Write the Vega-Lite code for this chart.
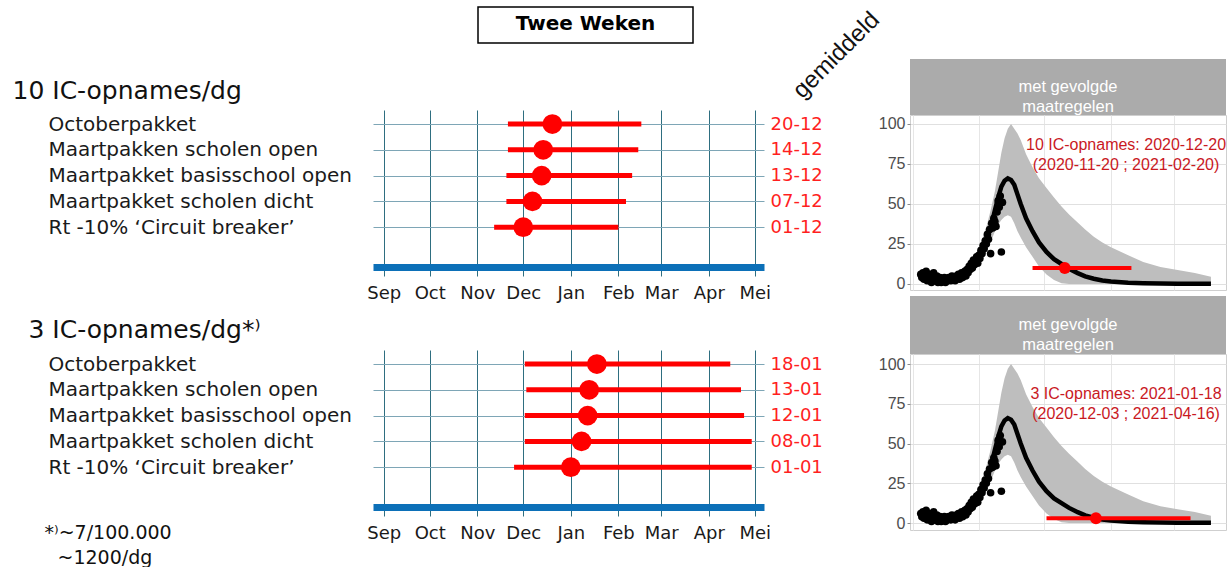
{
  "$schema": "https://vega.github.io/schema/vega-lite/v6.json",
  "background": "white",
  "padding": {"left": 12, "top": 6, "right": 0, "bottom": 0},
  "config": {"view": {"stroke": null}, "font": "DejaVu Sans"},
  "datasets": {
    "f10": [
      {"name": "Octoberpakket", "lab": "20-12", "mid": "2020-12-20", "lo": "2020-11-21", "hi": "2021-02-16"},
      {"name": "Maartpakken scholen open", "lab": "14-12", "mid": "2020-12-14", "lo": "2020-11-21", "hi": "2021-02-14"},
      {"name": "Maartpakket basisschool open", "lab": "13-12", "mid": "2020-12-13", "lo": "2020-11-20", "hi": "2021-02-10"},
      {"name": "Maartpakket scholen dicht", "lab": "07-12", "mid": "2020-12-07", "lo": "2020-11-20", "hi": "2021-02-06"},
      {"name": "Rt -10% ‘Circuit breaker’", "lab": "01-12", "mid": "2020-12-01", "lo": "2020-11-12", "hi": "2021-02-01"}
    ],
    "f3": [
      {"name": "Octoberpakket", "lab": "18-01", "mid": "2021-01-18", "lo": "2020-12-02", "hi": "2021-04-15"},
      {"name": "Maartpakken scholen open", "lab": "13-01", "mid": "2021-01-13", "lo": "2020-12-03", "hi": "2021-04-22"},
      {"name": "Maartpakket basisschool open", "lab": "12-01", "mid": "2021-01-12", "lo": "2020-12-02", "hi": "2021-04-24"},
      {"name": "Maartpakket scholen dicht", "lab": "08-01", "mid": "2021-01-08", "lo": "2020-12-02", "hi": "2021-04-29"},
      {"name": "Rt -10% ‘Circuit breaker’", "lab": "01-01", "mid": "2021-01-01", "lo": "2020-11-25", "hi": "2021-04-29"}
    ],
    "curve": [
      {"date": "2020-08-08", "fit": 6.5, "lo": 4.5, "hi": 8.5},
      {"date": "2020-08-16", "fit": 4.5, "lo": 3, "hi": 6.5},
      {"date": "2020-08-24", "fit": 3.7, "lo": 2.5, "hi": 5.5},
      {"date": "2020-09-01", "fit": 3.8, "lo": 2.5, "hi": 5.5},
      {"date": "2020-09-09", "fit": 4.6, "lo": 3, "hi": 6.5},
      {"date": "2020-09-17", "fit": 7, "lo": 5, "hi": 9.5},
      {"date": "2020-09-24", "fit": 10.8, "lo": 8, "hi": 14},
      {"date": "2020-10-01", "fit": 17, "lo": 13, "hi": 22},
      {"date": "2020-10-07", "fit": 25.6, "lo": 19, "hi": 33},
      {"date": "2020-10-12", "fit": 35, "lo": 26, "hi": 46},
      {"date": "2020-10-16", "fit": 46, "lo": 33, "hi": 58},
      {"date": "2020-10-19", "fit": 54, "lo": 37, "hi": 70},
      {"date": "2020-10-22", "fit": 60.8, "lo": 40, "hi": 82},
      {"date": "2020-10-25", "fit": 64.5, "lo": 42, "hi": 91},
      {"date": "2020-10-28", "fit": 66, "lo": 43, "hi": 97},
      {"date": "2020-10-31", "fit": 65, "lo": 42, "hi": 100},
      {"date": "2020-11-03", "fit": 62, "lo": 38, "hi": 97},
      {"date": "2020-11-06", "fit": 56, "lo": 33, "hi": 94},
      {"date": "2020-11-09", "fit": 50, "lo": 29, "hi": 90},
      {"date": "2020-11-14", "fit": 41, "lo": 23, "hi": 81},
      {"date": "2020-11-20", "fit": 33, "lo": 17, "hi": 73},
      {"date": "2020-11-26", "fit": 26, "lo": 11, "hi": 66},
      {"date": "2020-12-03", "fit": 20, "lo": 6, "hi": 60},
      {"date": "2020-12-10", "fit": 15.5, "lo": 2.5, "hi": 54},
      {"date": "2020-12-17", "fit": 12.5, "lo": 0.5, "hi": 48.5},
      {"date": "2020-12-24", "fit": 9.5, "lo": 0, "hi": 43.5},
      {"date": "2021-01-01", "fit": 6.8, "lo": 0, "hi": 38.5},
      {"date": "2021-01-08", "fit": 4.8, "lo": 0, "hi": 34},
      {"date": "2021-01-16", "fit": 3.3, "lo": 0, "hi": 29.5},
      {"date": "2021-01-24", "fit": 2.2, "lo": 0, "hi": 26},
      {"date": "2021-02-01", "fit": 1.5, "lo": 0, "hi": 23},
      {"date": "2021-02-17", "fit": 0.8, "lo": 0, "hi": 18},
      {"date": "2021-03-03", "fit": 0.5, "lo": 0, "hi": 13.7},
      {"date": "2021-03-19", "fit": 0.3, "lo": 0, "hi": 10.6},
      {"date": "2021-04-04", "fit": 0.2, "lo": 0, "hi": 8.7},
      {"date": "2021-04-20", "fit": 0.2, "lo": 0, "hi": 6.9},
      {"date": "2021-05-05", "fit": 0.2, "lo": 0, "hi": 4.6}
    ],
    "obs": [
      {"date": "2020-08-08", "n": 6}, {"date": "2020-08-09", "n": 4}, {"date": "2020-08-10", "n": 7}, {"date": "2020-08-11", "n": 3},
      {"date": "2020-08-12", "n": 5}, {"date": "2020-08-13", "n": 8}, {"date": "2020-08-14", "n": 2}, {"date": "2020-08-15", "n": 5},
      {"date": "2020-08-16", "n": 6}, {"date": "2020-08-17", "n": 3}, {"date": "2020-08-18", "n": 1}, {"date": "2020-08-19", "n": 4},
      {"date": "2020-08-20", "n": 7}, {"date": "2020-08-21", "n": 2}, {"date": "2020-08-22", "n": 3}, {"date": "2020-08-23", "n": 5},
      {"date": "2020-08-24", "n": 1}, {"date": "2020-08-25", "n": 2}, {"date": "2020-08-26", "n": 4}, {"date": "2020-08-27", "n": 1},
      {"date": "2020-08-28", "n": 3}, {"date": "2020-08-29", "n": 2}, {"date": "2020-08-30", "n": 4}, {"date": "2020-08-31", "n": 1},
      {"date": "2020-09-01", "n": 3}, {"date": "2020-09-02", "n": 2}, {"date": "2020-09-03", "n": 4}, {"date": "2020-09-04", "n": 3},
      {"date": "2020-09-05", "n": 2}, {"date": "2020-09-06", "n": 5}, {"date": "2020-09-07", "n": 3}, {"date": "2020-09-08", "n": 4},
      {"date": "2020-09-09", "n": 2}, {"date": "2020-09-10", "n": 5}, {"date": "2020-09-11", "n": 4}, {"date": "2020-09-12", "n": 6},
      {"date": "2020-09-13", "n": 3}, {"date": "2020-09-14", "n": 5}, {"date": "2020-09-15", "n": 7}, {"date": "2020-09-16", "n": 4},
      {"date": "2020-09-17", "n": 6}, {"date": "2020-09-18", "n": 8}, {"date": "2020-09-19", "n": 5}, {"date": "2020-09-20", "n": 9},
      {"date": "2020-09-21", "n": 7}, {"date": "2020-09-22", "n": 11}, {"date": "2020-09-23", "n": 9}, {"date": "2020-09-24", "n": 13},
      {"date": "2020-09-25", "n": 10}, {"date": "2020-09-26", "n": 15}, {"date": "2020-09-27", "n": 12}, {"date": "2020-09-28", "n": 14},
      {"date": "2020-09-29", "n": 17}, {"date": "2020-09-30", "n": 13}, {"date": "2020-10-01", "n": 18}, {"date": "2020-10-02", "n": 16},
      {"date": "2020-10-03", "n": 21}, {"date": "2020-10-04", "n": 19}, {"date": "2020-10-05", "n": 24}, {"date": "2020-10-06", "n": 22},
      {"date": "2020-10-07", "n": 27}, {"date": "2020-10-08", "n": 25}, {"date": "2020-10-09", "n": 31}, {"date": "2020-10-10", "n": 28},
      {"date": "2020-10-11", "n": 34}, {"date": "2020-10-12", "n": 19}, {"date": "2020-10-13", "n": 38}, {"date": "2020-10-14", "n": 35},
      {"date": "2020-10-15", "n": 41}, {"date": "2020-10-16", "n": 39}, {"date": "2020-10-17", "n": 36}, {"date": "2020-10-18", "n": 45},
      {"date": "2020-10-19", "n": 52}, {"date": "2020-10-20", "n": 48}, {"date": "2020-10-21", "n": 55}, {"date": "2020-10-22", "n": 20},
      {"date": "2020-10-23", "n": 51}
    ],
    "red10": [
      {"lo": "2020-11-20", "mid": "2020-12-20", "hi": "2021-02-20", "v": 10, "label": "10 IC-opnames: 2020-12-20\n(2020-11-20 ; 2021-02-20)"}
    ],
    "red3": [
      {"lo": "2020-12-03", "mid": "2021-01-18", "hi": "2021-04-16", "v": 3, "label": "3 IC-opnames: 2021-01-18\n(2020-12-03 ; 2021-04-16)"}
    ],
    "strip": [{"facet": "met gevolgde\nmaatregelen"}],
    "kop": [{"t": "Twee Weken"}],
    "leeg": []
  },
  "bounds": "flush",
  "spacing": 537,
  "hconcat": [
    {
      "bounds": "flush",
      "spacing": 0,
      "vconcat": [
        {
          "bounds": "flush",
          "spacing": 0,
          "hconcat": [
            {"width": 105, "height": 36, "data": {"name": "leeg"}, "mark": "point"},
            {
              "width": 215, "height": 36,
              "view": {"stroke": "#000000", "strokeWidth": 1.5, "fill": "white"},
              "data": {"name": "kop"},
              "mark": {"type": "text", "font": "DejaVu Sans", "fontSize": 20, "fontWeight": "bold", "color": "#000000", "baseline": "middle", "align": "center", "dy": -1},
              "encoding": {"text": {"field": "t"}}
            }
          ]
        },
        {"width": 391, "height": 103, "data": {"name": "leeg"}, "mark": "point"},
        {
          "width": 391, "height": 157,
          "data": {"name": "f10"},
          "layer": [
            {
              "layer": [
                {
                  "mark": {"type": "rule", "color": "#ff0000", "strokeWidth": 5},
                  "encoding": {
                    "x": {"field": "lo", "type": "temporal",
                      "scale": {"type": "utc", "domain": [{"year": 2020, "month": 8, "date": 25, "utc": true}, {"year": 2021, "month": 5, "date": 7, "utc": true}]},
                      "axis": {
                        "title": null,
                        "values": [{"year": 2020, "month": 9, "date": 1, "utc": true}, {"year": 2020, "month": 10, "date": 1, "utc": true}, {"year": 2020, "month": 11, "date": 1, "utc": true}, {"year": 2020, "month": 12, "date": 1, "utc": true}, {"year": 2021, "month": 1, "date": 1, "utc": true}, {"year": 2021, "month": 2, "date": 1, "utc": true}, {"year": 2021, "month": 3, "date": 1, "utc": true}, {"year": 2021, "month": 4, "date": 1, "utc": true}, {"year": 2021, "month": 5, "date": 1, "utc": true}],
                        "labelExpr": "['Jan','Feb','Mar','Apr','Mei','Jun','Jul','Aug','Sep','Oct','Nov','Dec'][utcmonth(datum.value)]",
                        "grid": true, "gridColor": "#2e6e80", "gridWidth": 1,
                        "domain": true, "domainColor": "#0c70b8", "domainWidth": 7, "domainCap": "butt",
                        "ticks": true, "tickColor": "#2e6e80", "tickSize": 9, "tickWidth": 1,
                        "labelFont": "DejaVu Sans", "labelFontSize": 18, "labelColor": "#1a1a1a", "labelPadding": 8,
                        "labelOverlap": false, "labelFlush": false, "labelBound": false
                      }
                    },
                    "x2": {"field": "hi"},
                    "y": {"field": "name", "type": "nominal", "sort": null,
                      "scale": {"type": "point", "padding": 0.545, "domain": ["Octoberpakket", "Maartpakken scholen open", "Maartpakket basisschool open", "Maartpakket scholen dicht", "Rt -10% ‘Circuit breaker’", " "]},
                      "axis": {
                        "orient": "left",
                        "values": ["Octoberpakket", "Maartpakken scholen open", "Maartpakket basisschool open", "Maartpakket scholen dicht", "Rt -10% ‘Circuit breaker’"],
                        "title": "10 IC-opnames/dg", "titleX": -361, "titleY": -12, "titleAngle": 0, "titleAlign": "left", "titleBaseline": "alphabetic",
                        "titleFont": "DejaVu Sans", "titleFontSize": 25, "titleFontWeight": "normal", "titleColor": "#111111",
                        "grid": true, "gridColor": "#7ea6b6", "gridWidth": 1,
                        "domain": false, "ticks": false, "tickSize": 0,
                        "labelAlign": "left", "labelBaseline": "middle", "labelPadding": 325,
                        "labelFont": "DejaVu Sans", "labelFontSize": 20, "labelColor": "#1a1a1a", "labelLimit": 400
                      }
                    }
                  }
                },
                {
                  "mark": {"type": "circle", "color": "#ff0000", "size": 390, "opacity": 1},
                  "encoding": {
                    "x": {"field": "mid", "type": "temporal"},
                    "y": {"field": "name", "type": "nominal", "sort": null}
                  }
                }
              ]
            },
            {
              "mark": {"type": "point", "opacity": 0},
              "encoding": {
                "x": {"field": "mid", "type": "temporal"},
                "y": {"field": "lab", "type": "nominal", "sort": null,
                  "scale": {"type": "point", "padding": 0.545, "domain": ["20-12", "14-12", "13-12", "07-12", "01-12", "  "]},
                  "axis": {
                    "orient": "right", "values": ["20-12", "14-12", "13-12", "07-12", "01-12"],
                    "grid": false, "domain": false, "ticks": false, "tickSize": 0,
                    "labelPadding": 6, "labelAlign": "left", "labelBaseline": "middle",
                    "labelFont": "DejaVu Sans", "labelFontSize": 18, "labelColor": "#ff1f1f",
                    "title": "gemiddeld", "titleAngle": -45, "titleX": 72, "titleY": -55, "titleAlign": "center", "titleBaseline": "middle",
                    "titleFont": "Liberation Sans", "titleFontSize": 24, "titleFontWeight": "normal", "titleColor": "#111111"
                  }
                }
              }
            }
          ],
          "resolve": {"scale": {"y": "independent"}, "axis": {"y": "independent"}}
        },
        {"width": 391, "height": 83, "data": {"name": "leeg"}, "mark": "point"},
        {
          "width": 391, "height": 157,
          "data": {"name": "f3"},
          "layer": [
            {
              "layer": [
                {
                  "mark": {"type": "rule", "color": "#ff0000", "strokeWidth": 5},
                  "encoding": {
                    "x": {"field": "lo", "type": "temporal",
                      "scale": {"type": "utc", "domain": [{"year": 2020, "month": 8, "date": 25, "utc": true}, {"year": 2021, "month": 5, "date": 7, "utc": true}]},
                      "axis": {
                        "title": "*⁾~7/100.000",
                        "titleX": -329, "titleY": 16, "titleAngle": 0, "titleAlign": "left", "titleBaseline": "top",
                        "titleFont": "DejaVu Sans", "titleFontSize": 19, "titleFontWeight": "normal", "titleColor": "#111111",
                        "values": [{"year": 2020, "month": 9, "date": 1, "utc": true}, {"year": 2020, "month": 10, "date": 1, "utc": true}, {"year": 2020, "month": 11, "date": 1, "utc": true}, {"year": 2020, "month": 12, "date": 1, "utc": true}, {"year": 2021, "month": 1, "date": 1, "utc": true}, {"year": 2021, "month": 2, "date": 1, "utc": true}, {"year": 2021, "month": 3, "date": 1, "utc": true}, {"year": 2021, "month": 4, "date": 1, "utc": true}, {"year": 2021, "month": 5, "date": 1, "utc": true}],
                        "labelExpr": "['Jan','Feb','Mar','Apr','Mei','Jun','Jul','Aug','Sep','Oct','Nov','Dec'][utcmonth(datum.value)]",
                        "grid": true, "gridColor": "#2e6e80", "gridWidth": 1,
                        "domain": true, "domainColor": "#0c70b8", "domainWidth": 7, "domainCap": "butt",
                        "ticks": true, "tickColor": "#2e6e80", "tickSize": 9, "tickWidth": 1,
                        "labelFont": "DejaVu Sans", "labelFontSize": 18, "labelColor": "#1a1a1a", "labelPadding": 8,
                        "labelOverlap": false, "labelFlush": false, "labelBound": false
                      }
                    },
                    "x2": {"field": "hi"},
                    "y": {"field": "name", "type": "nominal", "sort": null,
                      "scale": {"type": "point", "padding": 0.545, "domain": ["Octoberpakket", "Maartpakken scholen open", "Maartpakket basisschool open", "Maartpakket scholen dicht", "Rt -10% ‘Circuit breaker’", " "]},
                      "axis": {
                        "orient": "left",
                        "values": ["Octoberpakket", "Maartpakken scholen open", "Maartpakket basisschool open", "Maartpakket scholen dicht", "Rt -10% ‘Circuit breaker’"],
                        "title": "3 IC-opnames/dg*⁾", "titleX": -345, "titleY": -13, "titleAngle": 0, "titleAlign": "left", "titleBaseline": "alphabetic",
                        "titleFont": "DejaVu Sans", "titleFontSize": 25, "titleFontWeight": "normal", "titleColor": "#111111",
                        "grid": true, "gridColor": "#7ea6b6", "gridWidth": 1,
                        "domain": false, "ticks": false, "tickSize": 0,
                        "labelAlign": "left", "labelBaseline": "middle", "labelPadding": 325,
                        "labelFont": "DejaVu Sans", "labelFontSize": 20, "labelColor": "#1a1a1a", "labelLimit": 400
                      }
                    }
                  }
                },
                {
                  "mark": {"type": "circle", "color": "#ff0000", "size": 390, "opacity": 1},
                  "encoding": {
                    "x": {"field": "mid", "type": "temporal"},
                    "y": {"field": "name", "type": "nominal", "sort": null}
                  }
                }
              ]
            },
            {
              "mark": {"type": "point", "opacity": 0},
              "encoding": {
                "x": {"field": "mid", "type": "temporal"},
                "y": {"field": "lab", "type": "nominal", "sort": null,
                  "scale": {"type": "point", "padding": 0.545, "domain": ["18-01", "13-01", "12-01", "08-01", "01-01", "  "]},
                  "axis": {
                    "orient": "right", "values": ["18-01", "13-01", "12-01", "08-01", "01-01"],
                    "grid": false, "domain": false, "ticks": false, "tickSize": 0,
                    "labelPadding": 6, "labelAlign": "left", "labelBaseline": "middle",
                    "labelFont": "DejaVu Sans", "labelFontSize": 18, "labelColor": "#ff1f1f",
                    "title": "~1200/dg", "titleX": -707, "titleY": 198, "titleAngle": 0, "titleAlign": "left", "titleBaseline": "top",
                    "titleFont": "DejaVu Sans", "titleFontSize": 19, "titleFontWeight": "normal", "titleColor": "#111111"
                  }
                }
              }
            }
          ],
          "resolve": {"scale": {"y": "independent"}, "axis": {"y": "independent"}}
        }
      ]
    },
    {
      "bounds": "flush",
      "spacing": 0,
      "vconcat": [
        {"width": 316, "height": 52, "data": {"name": "leeg"}, "mark": "point"},
        {
          "width": 316, "height": 56,
          "view": {"fill": "#ababab", "stroke": null},
          "data": {"name": "strip"},
          "mark": {"type": "text", "color": "white", "font": "Liberation Sans", "fontSize": 16.5, "lineBreak": "\n", "lineHeight": 20, "baseline": "middle", "align": "center"},
          "encoding": {"text": {"field": "facet"}}
        },
        {
          "width": 316, "height": 175,
          "view": {"stroke": "#cfcfcf", "strokeWidth": 1},
          "layer": [
            {
              "data": {"name": "curve"},
              "mark": {"type": "area", "color": "#bebebe", "opacity": 1},
              "encoding": {
                "x": {"field": "date", "type": "temporal",
                  "scale": {"type": "utc", "domain": [{"year": 2020, "month": 7, "date": 29, "utc": true}, {"year": 2021, "month": 5, "date": 19, "utc": true}]},
                  "axis": {"title": null, "labels": false, "ticks": false, "domain": false, "grid": true, "gridColor": "#e6e6e6", "gridWidth": 1,
                    "values": [{"year": 2020, "month": 8, "date": 1, "utc": true}, {"year": 2020, "month": 8, "date": 16, "utc": true}, {"year": 2020, "month": 9, "date": 1, "utc": true}, {"year": 2020, "month": 9, "date": 16, "utc": true}, {"year": 2020, "month": 10, "date": 1, "utc": true}, {"year": 2020, "month": 10, "date": 16, "utc": true}, {"year": 2020, "month": 11, "date": 1, "utc": true}, {"year": 2020, "month": 11, "date": 16, "utc": true}, {"year": 2020, "month": 12, "date": 1, "utc": true}, {"year": 2020, "month": 12, "date": 16, "utc": true}, {"year": 2021, "month": 1, "date": 1, "utc": true}, {"year": 2021, "month": 1, "date": 16, "utc": true}, {"year": 2021, "month": 2, "date": 1, "utc": true}, {"year": 2021, "month": 2, "date": 16, "utc": true}, {"year": 2021, "month": 3, "date": 1, "utc": true}, {"year": 2021, "month": 3, "date": 16, "utc": true}, {"year": 2021, "month": 4, "date": 1, "utc": true}, {"year": 2021, "month": 4, "date": 16, "utc": true}, {"year": 2021, "month": 5, "date": 1, "utc": true}, {"year": 2021, "month": 5, "date": 16, "utc": true}]}
                },
                "y": {"field": "lo", "type": "quantitative",
                  "scale": {"domain": [-3.75, 105.6], "nice": false, "zero": false},
                  "axis": {"title": null, "values": [0, 12.5, 25, 37.5, 50, 62.5, 75, 87.5, 100],
                    "labelExpr": "datum.value % 25 === 0 ? datum.label : ''",
                    "grid": true, "gridColor": {"condition": {"test": "datum.value % 25 === 0", "value": "#e0e0e0"}, "value": "#efefef"}, "gridWidth": 1,
                    "domain": false, "ticks": true, "tickSize": 3, "tickColor": "#8a8a8a",
                    "tickOpacity": {"condition": {"test": "datum.value % 25 === 0", "value": 1}, "value": 0},
                    "labelFont": "Liberation Sans", "labelFontSize": 16, "labelColor": "#4d4d4d", "labelPadding": 2, "labelOverlap": false}
                },
                "y2": {"field": "hi"}
              }
            },
            {
              "data": {"name": "obs"},
              "mark": {"type": "circle", "color": "#000000", "size": 58, "opacity": 1},
              "encoding": {"x": {"field": "date", "type": "temporal"}, "y": {"field": "n", "type": "quantitative"}}
            },
            {
              "data": {"name": "curve"},
              "mark": {"type": "line", "color": "#000000", "strokeWidth": 4.5},
              "encoding": {"x": {"field": "date", "type": "temporal"}, "y": {"field": "fit", "type": "quantitative"}}
            },
            {
              "data": {"name": "red10"},
              "mark": {"type": "rule", "color": "#ff0000", "strokeWidth": 4},
              "encoding": {"x": {"field": "lo", "type": "temporal"}, "x2": {"field": "hi"}, "y": {"field": "v", "type": "quantitative"}}
            },
            {
              "data": {"name": "red10"},
              "mark": {"type": "circle", "color": "#ff0000", "size": 140, "opacity": 1},
              "encoding": {"x": {"field": "mid", "type": "temporal"}, "y": {"field": "v", "type": "quantitative"}}
            },
            {
              "data": {"name": "red10"},
              "mark": {"type": "text", "color": "#c9191f", "font": "Liberation Sans", "fontSize": 16, "lineBreak": "\n", "lineHeight": 20, "align": "center", "baseline": "middle"},
              "encoding": {
                "x": {"datum": {"year": 2021, "month": 2, "date": 15, "utc": true}, "type": "temporal"},
                "y": {"datum": 86.9, "type": "quantitative"},
                "text": {"field": "label"}
              }
            }
          ]
        },
        {"width": 316, "height": 6, "data": {"name": "leeg"}, "mark": "point"},
        {
          "width": 316, "height": 58,
          "view": {"fill": "#ababab", "stroke": null},
          "data": {"name": "strip"},
          "mark": {"type": "text", "color": "white", "font": "Liberation Sans", "fontSize": 16.5, "lineBreak": "\n", "lineHeight": 20, "baseline": "middle", "align": "center"},
          "encoding": {"text": {"field": "facet"}}
        },
        {
          "width": 316, "height": 176,
          "view": {"stroke": "#cfcfcf", "strokeWidth": 1},
          "layer": [
            {
              "data": {"name": "curve"},
              "mark": {"type": "area", "color": "#bebebe", "opacity": 1},
              "encoding": {
                "x": {"field": "date", "type": "temporal",
                  "scale": {"type": "utc", "domain": [{"year": 2020, "month": 7, "date": 29, "utc": true}, {"year": 2021, "month": 5, "date": 19, "utc": true}]},
                  "axis": {"title": null, "labels": false, "ticks": false, "domain": false, "grid": true, "gridColor": "#e6e6e6", "gridWidth": 1,
                    "values": [{"year": 2020, "month": 8, "date": 1, "utc": true}, {"year": 2020, "month": 8, "date": 16, "utc": true}, {"year": 2020, "month": 9, "date": 1, "utc": true}, {"year": 2020, "month": 9, "date": 16, "utc": true}, {"year": 2020, "month": 10, "date": 1, "utc": true}, {"year": 2020, "month": 10, "date": 16, "utc": true}, {"year": 2020, "month": 11, "date": 1, "utc": true}, {"year": 2020, "month": 11, "date": 16, "utc": true}, {"year": 2020, "month": 12, "date": 1, "utc": true}, {"year": 2020, "month": 12, "date": 16, "utc": true}, {"year": 2021, "month": 1, "date": 1, "utc": true}, {"year": 2021, "month": 1, "date": 16, "utc": true}, {"year": 2021, "month": 2, "date": 1, "utc": true}, {"year": 2021, "month": 2, "date": 16, "utc": true}, {"year": 2021, "month": 3, "date": 1, "utc": true}, {"year": 2021, "month": 3, "date": 16, "utc": true}, {"year": 2021, "month": 4, "date": 1, "utc": true}, {"year": 2021, "month": 4, "date": 16, "utc": true}, {"year": 2021, "month": 5, "date": 1, "utc": true}, {"year": 2021, "month": 5, "date": 16, "utc": true}]}
                },
                "y": {"field": "lo", "type": "quantitative",
                  "scale": {"domain": [-4.4, 106.3], "nice": false, "zero": false},
                  "axis": {"title": null, "values": [0, 12.5, 25, 37.5, 50, 62.5, 75, 87.5, 100],
                    "labelExpr": "datum.value % 25 === 0 ? datum.label : ''",
                    "grid": true, "gridColor": {"condition": {"test": "datum.value % 25 === 0", "value": "#e0e0e0"}, "value": "#efefef"}, "gridWidth": 1,
                    "domain": false, "ticks": true, "tickSize": 3, "tickColor": "#8a8a8a",
                    "tickOpacity": {"condition": {"test": "datum.value % 25 === 0", "value": 1}, "value": 0},
                    "labelFont": "Liberation Sans", "labelFontSize": 16, "labelColor": "#4d4d4d", "labelPadding": 2, "labelOverlap": false}
                },
                "y2": {"field": "hi"}
              }
            },
            {
              "data": {"name": "obs"},
              "mark": {"type": "circle", "color": "#000000", "size": 58, "opacity": 1},
              "encoding": {"x": {"field": "date", "type": "temporal"}, "y": {"field": "n", "type": "quantitative"}}
            },
            {
              "data": {"name": "curve"},
              "mark": {"type": "line", "color": "#000000", "strokeWidth": 4.5},
              "encoding": {"x": {"field": "date", "type": "temporal"}, "y": {"field": "fit", "type": "quantitative"}}
            },
            {
              "data": {"name": "red3"},
              "mark": {"type": "rule", "color": "#ff0000", "strokeWidth": 4},
              "encoding": {"x": {"field": "lo", "type": "temporal"}, "x2": {"field": "hi"}, "y": {"field": "v", "type": "quantitative"}}
            },
            {
              "data": {"name": "red3"},
              "mark": {"type": "circle", "color": "#ff0000", "size": 140, "opacity": 1},
              "encoding": {"x": {"field": "mid", "type": "temporal"}, "y": {"field": "v", "type": "quantitative"}}
            },
            {
              "data": {"name": "red3"},
              "mark": {"type": "text", "color": "#c9191f", "font": "Liberation Sans", "fontSize": 16, "lineBreak": "\n", "lineHeight": 20, "align": "center", "baseline": "middle"},
              "encoding": {
                "x": {"datum": {"year": 2021, "month": 2, "date": 15, "utc": true}, "type": "temporal"},
                "y": {"datum": 81, "type": "quantitative"},
                "text": {"field": "label"}
              }
            }
          ]
        }
      ]
    }
  ]
}
